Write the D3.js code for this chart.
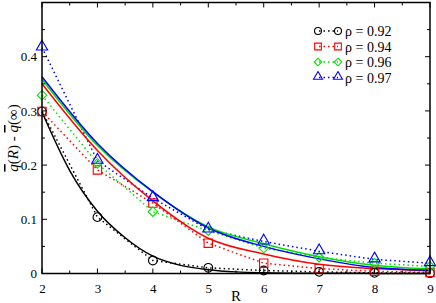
<!DOCTYPE html>
<html><head><meta charset="utf-8">
<script src="https://cdn.jsdelivr.net/npm/d3@7"></script>
<style>body{margin:0;background:#fff}svg{display:block}</style>
</head><body><svg id="c" width="436" height="303"></svg>
<script>
const R = [2,3,4,5,6,7,8,9];
const rhoLabels = ["ρ = 0.92","ρ = 0.94","ρ = 0.96","ρ = 0.97"];
const colors = ["#000000","#ff0000","#00e000","#0000ff"];
const symbols = ["circle","square","diamond","triangle"];
const pts092 = [0.299,0.104,0.024,0.0105,0.0055,0.003,0.0012,0.0006];
const pts094 = [0.299,0.191,0.13,0.056,0.019,0.009,0.004,0.002];
const pts096 = [0.329,0.203,0.114,0.079,0.047,0.030,0.019,0.013];
const pts097 = [0.417,0.208,0.139,0.081,0.059,0.041,0.026,0.019];
const fitR092 = [2,2.5,3,3.5,4,4.5,5,5.5,6,7,8,9];
const fit092 = [0.298,0.19,0.115,0.066,0.032,0.015,0.007,0.003,0.0015,0.0005,0.0002,0.0001];
const fitR = [2,3,4,5,6,7,8,9];
const fit094 = [0.35,0.227,0.134,0.065,0.036,0.017,0.009,0.005];
const fit096 = [0.358,0.236,0.150,0.086,0.055,0.031,0.015,0.008];
const fit097 = [0.363,0.240,0.151,0.084,0.050,0.027,0.011,0.006];
const xTicks = [2,3,4,5,6,7,8,9];
const yTicks = [0,0.1,0.2,0.3,0.4];

const FONT = '"Liberation Serif","Tinos","Times New Roman","Times","Noto Serif","DejaVu Serif","FreeSerif",serif';
const svg = d3.select("#c");
const L=42, Rr=430, T=2.5, B=273.5;
const x = d3.scaleLinear().domain([2,9]).range([L,Rr]);
const y = d3.scaleLinear().domain([0,0.5]).range([B,T]);

const series = [
  {pts:pts092, fx:fitR092, fy:fit092},
  {pts:pts094, fx:fitR, fy:fit094},
  {pts:pts096, fx:fitR, fy:fit096},
  {pts:pts097, fx:fitR, fy:fit097}
];
const line = d3.line().x(d=>x(d[0])).y(d=>y(d[1]));
const fitLine = d3.line().x(d=>x(d[0])).y(d=>y(d[1])).curve(d3.curveMonotoneX);

const symGen = {
  circle: d3.symbol().type(d3.symbolCircle).size(60),
  square: d3.symbol().type(d3.symbolSquare).size(70),
  diamond: d3.symbol().type(d3.symbolSquare).size(45),
  triangle: d3.symbol().type(d3.symbolTriangle).size(55)
};
function drawSym(g, k, cx, cy, color, scale){
  const p = g.append("path").attr("d", symGen[symbols[k]]())
    .attr("fill","none").attr("stroke",color).attr("stroke-width",1.1);
  let tr = `translate(${cx},${cy})`;
  if(symbols[k]==="diamond") tr += " rotate(45)";
  if(symbols[k]==="triangle") tr += " translate(0,-0.8)";
  tr += ` scale(${scale||1})`;
  p.attr("transform", tr).attr("vector-effect","non-scaling-stroke");
}

const plot = svg.append("g");
series.forEach((s,i)=>{
  plot.append("path").attr("d", line(R.map((r,j)=>[r,s.pts[j]])))
    .attr("fill","none").attr("stroke",colors[i]).attr("stroke-width",1.5)
    .attr("stroke-dasharray","1.5,3");
});
series.forEach((s,i)=>{
  plot.append("path").attr("d", fitLine(s.fx.map((r,j)=>[r,s.fy[j]])))
    .attr("fill","none").attr("stroke",colors[i]).attr("stroke-width",1.5);
});
series.forEach((s,i)=>{
  R.forEach((r,j)=>drawSym(plot,i,x(r),y(s.pts[j]),colors[i],1));
});

const minorX = d3.range(2,9.01,0.5);
const minorY = d3.range(0,0.501,0.05);
const ax = svg.append("g").attr("stroke","#000").attr("stroke-width",1);
minorX.forEach(v=>{
  const len = Number.isInteger(v)?5:3;
  ax.append("line").attr("x1",x(v)).attr("x2",x(v)).attr("y1",B).attr("y2",B-len);
  ax.append("line").attr("x1",x(v)).attr("x2",x(v)).attr("y1",T).attr("y2",T+len);
});
minorY.forEach(v=>{
  const len = (Math.round(v*100)%10===0)?5:3;
  ax.append("line").attr("x1",L).attr("x2",L+len).attr("y1",y(v)).attr("y2",y(v));
  ax.append("line").attr("x1",Rr).attr("x2",Rr-len).attr("y1",y(v)).attr("y2",y(v));
});
svg.append("rect").attr("x",L).attr("y",T).attr("width",Rr-L).attr("height",B-T)
  .attr("fill","none").attr("stroke","#000").attr("stroke-width",1.5);

const xa = d3.axisBottom(x).tickValues(xTicks).tickSize(0).tickPadding(10).tickFormat(d3.format("d"));
svg.append("g").attr("transform",`translate(0,${B})`).call(xa)
  .attr("font-family",FONT).attr("font-size",13)
  .call(g=>g.select(".domain").remove());
const ya = d3.axisLeft(y).tickValues(yTicks).tickSize(0).tickPadding(5).tickFormat(d=>d===0?"0":d3.format(".1f")(d));
svg.append("g").attr("transform",`translate(${L},0)`).call(ya)
  .attr("font-family",FONT).attr("font-size",13)
  .call(g=>g.select(".domain").remove());

svg.append("text").attr("x",236).attr("y",301).attr("text-anchor","middle")
  .attr("font-family",FONT).attr("font-size",15).text("R");
const yl = svg.append("text").attr("transform","translate(18,138) rotate(-90)")
  .attr("text-anchor","middle").attr("font-family",FONT).attr("font-size",15);
yl.append("tspan").attr("font-style","italic").attr("text-decoration","overline").text("q");
yl.append("tspan").text("(");
yl.append("tspan").attr("font-style","italic").text("R");
yl.append("tspan").text(") - ");
yl.append("tspan").attr("font-style","italic").attr("text-decoration","overline").text("q");
yl.append("tspan").text("(∞)");

const lg = svg.append("g");
const rowsY = [31,46.5,62,77.5];
rhoLabels.forEach((t,i)=>{
  const yy = rowsY[i];
  lg.append("line").attr("x1",318).attr("x2",338).attr("y1",yy).attr("y2",yy)
    .attr("stroke",colors[i]).attr("stroke-width",1.5).attr("stroke-dasharray","1.5,3").attr("stroke-dashoffset",-1);
  drawSym(lg,i,318,yy,colors[i],0.8);
  drawSym(lg,i,338,yy,colors[i],0.8);
  lg.append("text").attr("x",345).attr("y",yy+5).attr("font-family",FONT).attr("font-size",14).text(t);
});
</script></body></html>
